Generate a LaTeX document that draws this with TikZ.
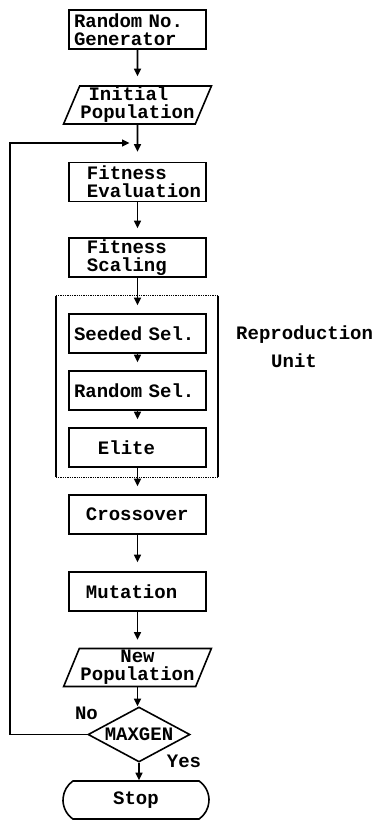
\documentclass[tikz,border=0pt]{standalone}
\usepackage{fontspec}
\newfontfamily\flowfont{Liberation Mono}[WordSpace={1,0,0}]
\usetikzlibrary{arrows.meta,shapes.geometric,shapes.misc,fit}
% indent one line of a left-aligned box text
\newcommand\flowindent[1]{\hspace*{#1}}

\begin{document}
\begin{tikzpicture}[x=1pt,y=1pt,
  every node/.style={font=\flowfont\bfseries\fontsize{19}{18}\selectfont},
  stepbox/.style={draw, line width=1.6pt, text width=135pt, inner xsep=1pt,
    inner ysep=0pt, minimum height=39pt, align=left},
  iobox/.style={draw, line width=1.6pt, trapezium, trapezium left angle=66,
    trapezium right angle=114, trapezium stretches=true, minimum width=148pt,
    minimum height=38pt, inner sep=0pt, align=center},
  decision/.style={draw, line width=1.6pt, diamond, aspect=1.85,
    minimum width=102pt, minimum height=55pt, inner sep=0pt,
    text height=11pt, text depth=0pt},
  terminal/.style={draw, line width=1.6pt, rounded rectangle,
    rounded rectangle arc length=110, minimum width=146pt,
    minimum height=38pt, inner sep=0pt},
  caption/.style={inner sep=0pt},
  flow/.style={line width=1.6pt, -{Triangle[length=7.5pt,width=7pt]}},
  frameside/.style={line width=1.5pt},
  frameedge/.style={line width=1.3pt, densely dotted}
]
% page
\fill[white] (0,0) rectangle (376,-820);

% process chain
\node[stepbox] (rng)     at (137.5,-29.5)
  {\flowindent{4pt}Random No.\\\flowindent{4pt}Generator};
\node[iobox]   (init)    at (137.5,-105)   {Initial\hspace*{18pt}\\Population};
\node[stepbox] (feval)   at (137.5,-182)
  {\flowindent{17pt}Fitness\\\flowindent{17pt}Evaluation};
\node[stepbox] (fscale)  at (137.5,-257.5)
  {\flowindent{17pt}Fitness\\\flowindent{17pt}Scaling};
\node[stepbox] (seeded)  at (137.5,-333.5) {\flowindent{4pt}Seeded Sel.};
\node[stepbox] (randsel) at (137.5,-390.5) {\flowindent{4pt}Random Sel.};
\node[stepbox] (elite)   at (137.5,-447.5) {\flowindent{28pt}Elite};
\node[stepbox] (cross)   at (137.5,-514.5) {\flowindent{16pt}Crossover};
\node[stepbox] (mut)     at (137.5,-591.5) {\flowindent{16pt}Mutation};
\node[iobox]   (newpop)  at (137.5,-667.5) {New\\Population};
\node[decision] (dia)    at (139,-734.5)   {MAXGEN};
\node[terminal] (stop)   at (136,-800)     {Stop};

% reproduction unit frame
\coordinate (runw) at (56,-296);
\coordinate (ruse) at (218,-477);
\node[fit=(runw)(ruse), inner sep=0pt] (repro) {};
\draw[frameside] (repro.north west) -- (repro.south west);
\draw[frameside] (repro.north east) -- (repro.south east);
\draw[frameedge] (repro.north west) -- (repro.north east);
\draw[frameedge] (repro.south west) -- (repro.south east);
\node[caption, anchor=base west] (reprolbl) at (236,-339) {Reproduction};
\node[caption, anchor=base west] (unitlbl)  at (271,-367) {Unit};

% branch labels
\node[caption, text height=11pt, text depth=0pt] (nolbl)  at (86.5,-713.5) {No};
\node[caption, text height=11pt, text depth=0pt] (yeslbl) at (184,-761.5)  {Yes};

% connectors
\draw[flow, shorten >=9pt]  (rng) -- (init);
\draw[flow, shorten >=10pt] (init) -- (feval);
\draw[flow, shorten >=9pt]  (feval) -- (fscale);
\draw[flow, shorten >=8pt]  (fscale) -- (seeded);
\draw[flow, shorten >=8pt]  (seeded) -- (randsel);
\draw[flow, shorten >=8pt]  (randsel) -- (elite);
\draw[flow, shorten >=8pt]  (elite) -- (cross);
\draw[flow, shorten >=9pt]  (cross) -- (mut);
\draw[flow, shorten >=8pt]  (mut) -- (newpop);
\draw[flow] (newpop.south) -- (newpop.south |- dia.north);
\draw[flow] (dia.south) -- (dia.south |- stop.north);

% loop back for the next generation
\coordinate (loopx) at (10,0);
\coordinate (join)  at (137.5,-143);
\draw[flow, shorten >=8pt] (dia.west) -- (dia.west -| loopx) |- (join);
\end{tikzpicture}
\end{document}
